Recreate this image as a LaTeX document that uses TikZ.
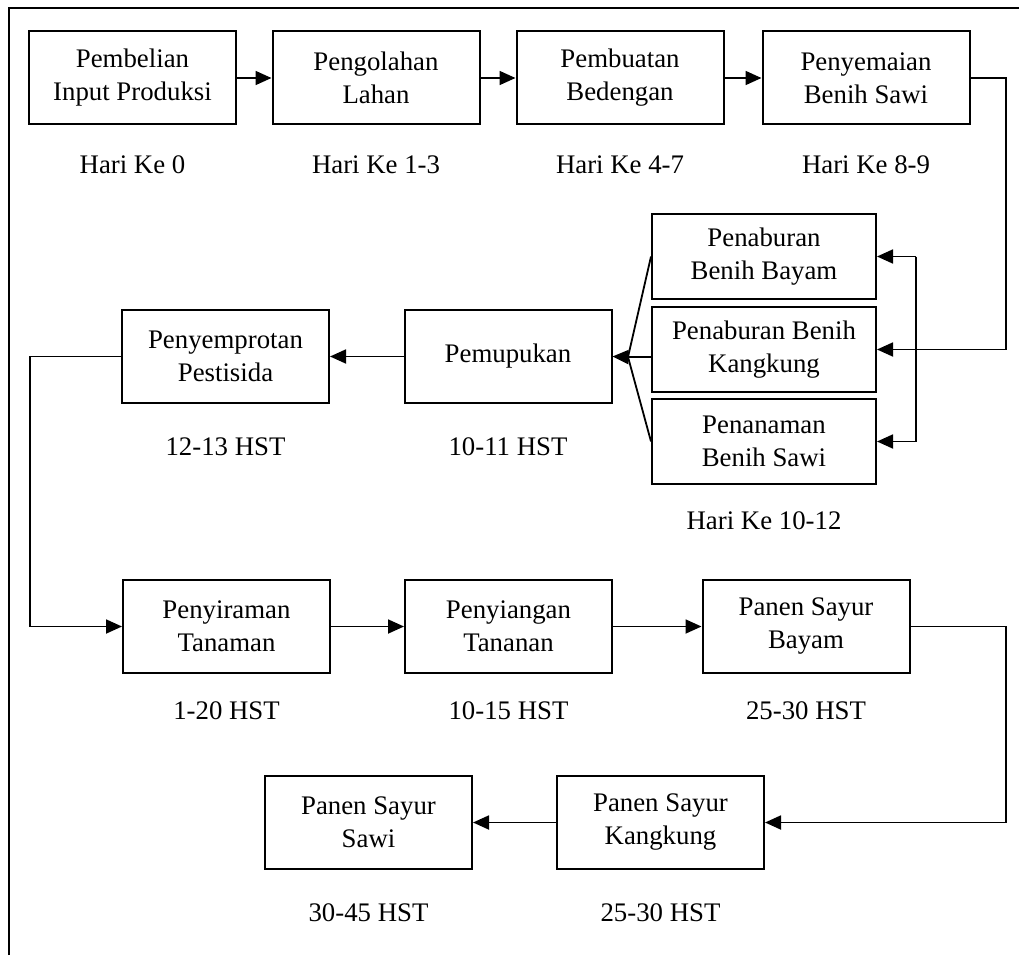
\documentclass[tikz,border=0pt]{standalone}
\usepackage{fontspec}
\setmainfont{Liberation Serif}
\usetikzlibrary{arrows.meta}
\begin{document}
\begin{tikzpicture}[x=1pt,y=-1pt,
  box/.style={draw,line width=2pt,align=center,minimum width=207pt,minimum height=93pt,inner sep=0pt,
    font=\fontsize{26.8}{33}\selectfont},
  sbox/.style={box,minimum width=224pt,minimum height=85pt},
  lbl/.style={font=\fontsize{26.8}{33}\selectfont,inner sep=0pt},
  conn/.style={line width=1.8pt},
  arr/.style={conn,-{Triangle[length=16pt,width=14pt]}}]
\useasboundingbox (0,0) rectangle (1019,955);
% frame
\draw[line width=1.8pt] (9,955) -- (9,8) -- (1019,8);
% row 1
\node[box] (a1) at (132.5,78) {Pembelian\\Input Produksi};
\node[box] (a2) at (376,78) {Pengolahan\\Lahan};
\node[box] (a3) at (620,78) {Pembuatan\\Bedengan};
\node[box] (a4) at (866,78) {Penyemaian\\Benih Sawi};
\node[lbl] (h1) at (132.5,165) {Hari Ke 0};
\node[lbl] (h2) at (376,165) {Hari Ke 1-3};
\node[lbl] (h3) at (620,165) {Hari Ke 4-7};
\node[lbl] (h4) at (866,165) {Hari Ke 8-9};
% sowing boxes
\node[sbox] (pb) at (764,256.5) {Penaburan\\Benih Bayam};
\node[sbox] (pk) at (764,349.5) {Penaburan Benih\\Kangkung};
\node[sbox] (ps) at (764,441.5) {Penanaman\\Benih Sawi};
\node[lbl] (h5) at (764,521) {Hari Ke 10-12};
% row 2
\node[box] (pm) at (508,356.5) {Pemupukan};
\node[box] (pz) at (225.5,356.5) {Penyemprotan\\Pestisida};
\node[lbl] (h6) at (508,447) {10-11 HST};
\node[lbl] (h7) at (225.5,447) {12-13 HST};
% row 3
\node[box] (c1) at (226.5,626.5) {Penyiraman\\Tanaman};
\node[box] (c2) at (508.5,626.5) {Penyiangan\\Tananan};
\node[box] (c3) at (806,626.5) {Panen Sayur\\Bayam};
\node[lbl] (h8) at (226.5,711) {1-20 HST};
\node[lbl] (h9) at (508.5,711) {10-15 HST};
\node[lbl] (h10) at (806,711) {25-30 HST};
% row 4
\node[box] (d1) at (368.5,822.5) {Panen Sayur\\Sawi};
\node[box] (d2) at (660.5,822.5) {Panen Sayur\\Kangkung};
\node[lbl] (h11) at (368.5,913) {30-45 HST};
\node[lbl] (h12) at (660.5,913) {25-30 HST};
% connectors row 1
\draw[arr] (a1.east) -- (a2.west);
\draw[arr] (a2.east) -- (a3.west);
\draw[arr] (a3.east) -- (a4.west);
\coordinate (r1) at (1006,78);
\draw[arr] (a4.east) -- (r1) |- (pk.east);
\coordinate (v1) at (916,256.5);
\coordinate (v2) at (916,441.5);
\draw[conn] (v1) -- (v2);
\draw[arr] (v1) -- (pb.east);
\draw[arr] (v2) -- (ps.east);
% fan into Pemupukan
\coordinate (m) at (628,357);
\draw[conn] (pb.west) -- (m);
\draw[conn] (ps.west) -- (m);
\draw[conn] (pk.west |- m) -- (m);
\draw[arr] (m) -- (pm.east);
\draw[arr] (pm.west) -- (pz.east);
\coordinate (l1) at (30,356.5);
\draw[arr] (pz.west) -- (l1) |- (c1.west);
% row 3
\draw[arr] (c1.east) -- (c2.west);
\draw[arr] (c2.east) -- (c3.west);
\coordinate (r3) at (1006,626.5);
\draw[arr] (c3.east) -- (r3) |- (d2.east);
\draw[arr] (d2.west) -- (d1.east);
\end{tikzpicture}
\end{document}
